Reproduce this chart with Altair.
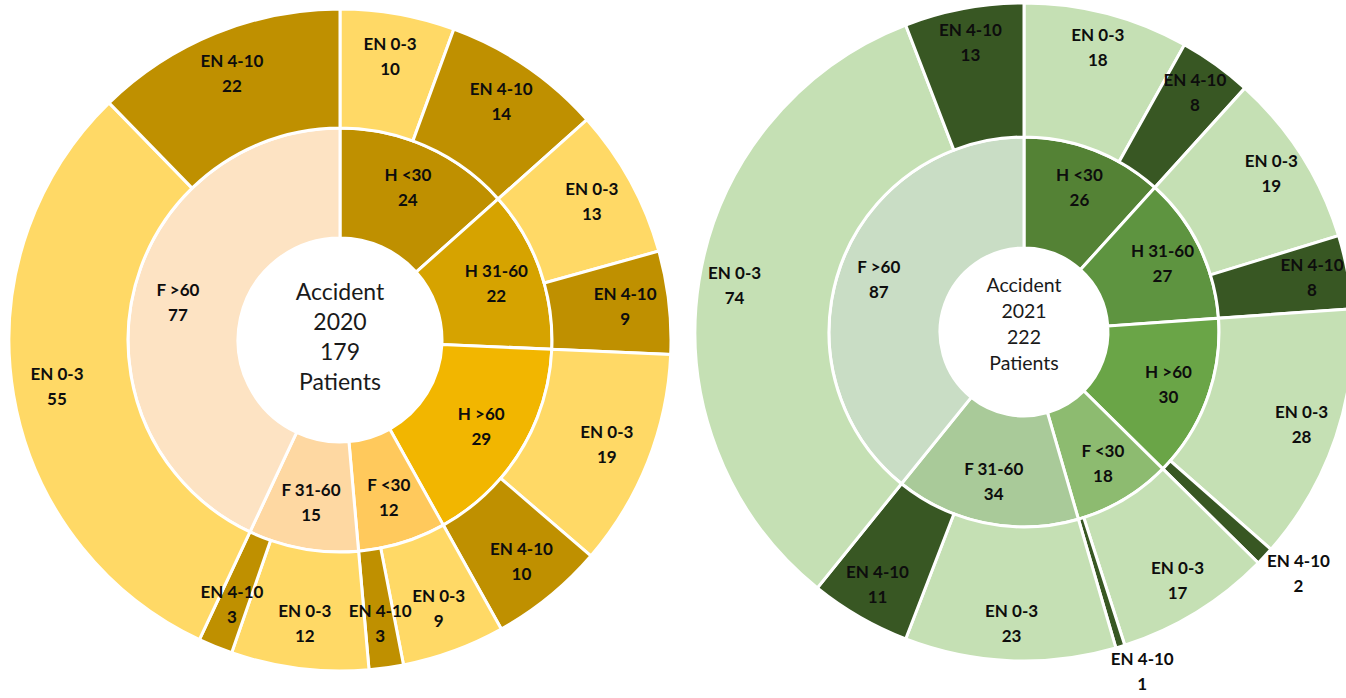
import math

import altair as alt
import pandas as pd

# Patient groups (inner ring) and severity classes (outer ring)
groups = ["H <30", "H 31-60", "H >60", "F <30", "F 31-60", "F >60"]
severity = ["EN 0-3", "EN 4-10"]

# Patients per group and severity class
en03_2020 = [10, 13, 19, 9, 12, 55]
en410_2020 = [14, 9, 10, 3, 3, 22]
en03_2021 = [18, 19, 28, 17, 23, 74]
en410_2021 = [8, 8, 2, 1, 11, 13]

# Fill colours
group_colors_2020 = ["#BF9000", "#D6A300", "#F2B600", "#FFC95C", "#FED8A2", "#FDE3C3"]
sev_colors_2020 = ["#FFD966", "#BF9000"]
group_colors_2021 = ["#548235", "#5E9440", "#6AA547", "#8DBB70", "#A9CA99", "#C9DDC5"]
sev_colors_2021 = ["#C5E0B4", "#385723"]

FONT = "Lato"
TEXT_COLOR = "#0d0d0d"
LABEL_SIZE = 17
LABEL_LH = 25


def ring_tables(en03, en410, gcolors, scolors):
    totals = [a + b for a, b in zip(en03, en410)]
    grand = sum(totals)
    scale = 2 * math.pi / grand
    inner, outer = [], []
    acc = 0
    for g, tot, col, parts in zip(groups, totals, gcolors, zip(en03, en410)):
        inner.append({"label": g, "value": tot, "color": col,
                      "start": acc * scale, "end": (acc + tot) * scale,
                      "mid": (acc + tot / 2) * scale,
                      "text": f"{g}\n{tot}"})
        sub = acc
        for s, v, sc in zip(severity, parts, scolors):
            outer.append({"label": s, "value": v, "color": sc,
                          "start": sub * scale, "end": (sub + v) * scale,
                          "mid": (sub + v / 2) * scale,
                          "text": f"{s}\n{v}"})
            sub += v
        acc += tot
    return pd.DataFrame(inner), pd.DataFrame(outer), grand


def sunburst(year, en03, en410, gcolors, scolors, cx, cy,
             r_hole, r_mid, r_out, lbl_in, lbl_out, lbl_far,
             centre_size, centre_lh, centre_shift):
    inner, outer, grand = ring_tables(en03, en410, gcolors, scolors)
    pos = dict(x=alt.value(cx), y=alt.value(cy))
    arc_enc = dict(theta=alt.Theta("start:Q", scale=None, stack=False),
                   theta2="end:Q",
                   color=alt.Color("color:N", scale=None), **pos)
    # two-line labels, centred on their anchor point
    txt_style = dict(font=FONT, fontWeight="bold", fontSize=LABEL_SIZE,
                     lineBreak="\n", lineHeight=LABEL_LH, dy=-LABEL_LH / 2,
                     color=TEXT_COLOR, align="center", baseline="middle")
    txt_enc = dict(theta=alt.Theta("mid:Q", scale=None, stack=False),
                   text="text:N", **pos)

    inner_arcs = alt.Chart(inner).mark_arc(
        radius=r_mid, radius2=r_hole, stroke="white", strokeWidth=3
    ).encode(**arc_enc)
    outer_arcs = alt.Chart(outer).mark_arc(
        radius=r_out, radius2=r_mid, stroke="white", strokeWidth=3
    ).encode(**arc_enc)
    inner_text = alt.Chart(inner).mark_text(radius=lbl_in, **txt_style).encode(**txt_enc)
    outer_text = alt.Chart(outer).transform_filter("datum.value > 2").mark_text(
        radius=lbl_out, **txt_style).encode(**txt_enc)
    # very thin slices get their label just outside the ring
    far_text = alt.Chart(outer).transform_filter("datum.value <= 2").mark_text(
        radius=lbl_far, dx=14, **txt_style).encode(**txt_enc)
    centre = alt.Chart(pd.DataFrame({"t": [f"Accident\n{year}\n{grand}\nPatients"]})).mark_text(
        font=FONT, fontSize=centre_size, lineBreak="\n", lineHeight=centre_lh,
        dy=-1.5 * centre_lh + centre_shift, color="#1a1a1a",
        align="center", baseline="middle"
    ).encode(text="t:N", **pos)
    return [inner_arcs, outer_arcs, inner_text, outer_text, far_text, centre]


layers = (
    sunburst(2020, en03_2020, en410_2020, group_colors_2020, sev_colors_2020,
             cx=340, cy=340, r_hole=102, r_mid=212, r_out=331,
             lbl_in=166, lbl_out=287, lbl_far=356,
             centre_size=23, centre_lh=30.3, centre_shift=-2)
    + sunburst(2021, en03_2021, en410_2021, group_colors_2021, sev_colors_2021,
               cx=1024, cy=332, r_hole=84, r_mid=195, r_out=329,
               lbl_in=154, lbl_out=293, lbl_far=356,
               centre_size=19.5, centre_lh=25.7, centre_shift=-7)
)

chart = alt.layer(*layers).properties(
    width=1346, height=698, padding=0,
    autosize=alt.AutoSizeParams(type="none"),
).configure_view(stroke=None)

chart.save("out.html", embed_options={"renderer": "svg", "actions": False})
